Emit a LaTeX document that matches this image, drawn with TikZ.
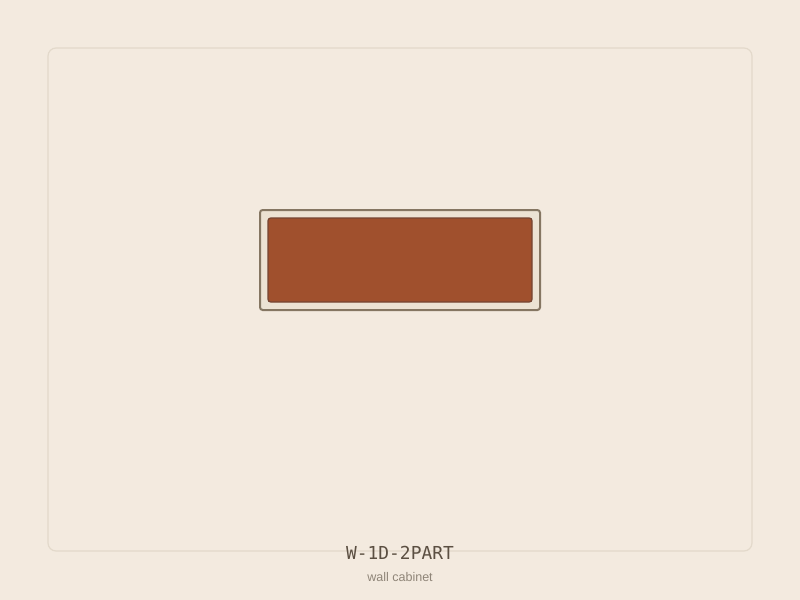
\documentclass[tikz,border=0pt]{standalone}
\usepackage{fontspec}
\setsansfont{Liberation Sans}
\setmonofont{DejaVu Sans Mono}
\usetikzlibrary{positioning}
\definecolor{paper}{HTML}{F3EADF}
\definecolor{panelLine}{HTML}{E3D9CB}
\definecolor{frameFill}{HTML}{ECE2D3}
\definecolor{frameLine}{HTML}{857662}
\definecolor{doorFill}{HTML}{A0502D}
\definecolor{doorLine}{HTML}{754532}
\definecolor{codeText}{HTML}{5B4F42}
\definecolor{kindText}{HTML}{8F8578}
\tikzset{
  panel/.style={draw=panelLine, line width=0.9pt, rectangle, rounded corners=6pt, minimum width=528pt, minimum height=377.25pt, inner sep=0pt},
  frame/.style={draw=frameLine, fill=frameFill, line width=1.5pt, rectangle, rounded corners=2pt, minimum width=210pt, minimum height=75pt, inner sep=0pt},
  door/.style={draw=doorLine, fill=doorFill, line width=0.9pt, rectangle, rounded corners=2pt, minimum width=198pt, minimum height=63pt, inner sep=0pt},
  code/.style={font=\ttfamily\fontsize{13.4}{15}\selectfont, text=codeText, inner sep=0pt},
  kind/.style={font=\sffamily\fontsize{9.4}{11}\selectfont, text=kindText, inner sep=0pt}
}

\begin{document}
\begin{tikzpicture}[x=0.75pt, y=-0.75pt]
    \fill[paper] (0,0) rectangle (800,600);
    \useasboundingbox (0,0) rectangle (800,600);
    \node[panel] (board) at (400,299.5) {};
    \node[frame] (cabinet) at (400,260) {};
    \node[door] (front) at (cabinet.center) {};
    \node[code] (label) at (400,553) {W-1D-2PART};
    \node[kind] (sub) at (400,577.5) {wall cabinet};
  \end{tikzpicture}
\end{document}
